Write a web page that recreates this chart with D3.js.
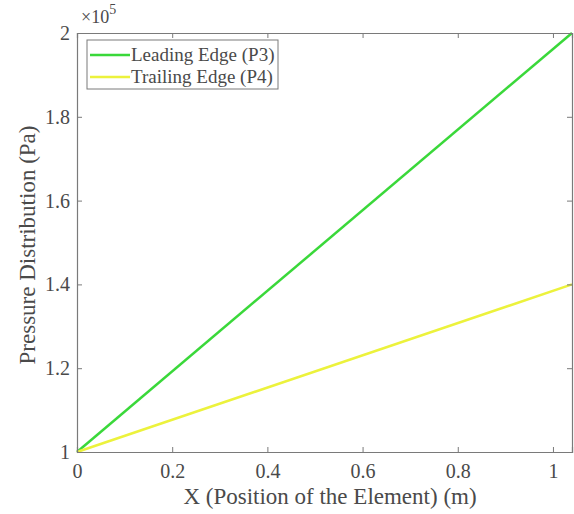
<!DOCTYPE html>
<html>
<head>
<meta charset="utf-8">
<script src="https://cdn.jsdelivr.net/npm/d3@7"></script>
<style>
  body { margin: 0; background: #fff; }
</style>
</head>
<body>
<div id="vis"></div>
<script>
const width = 574;
const height = 514;
const margin = { top: 33, right: 1, bottom: 62, left: 77 };
const font = '"Liberation Serif", "Times New Roman", serif';

// Data (pressure in Pa, position in m)
const xPos = [0, 1.04];
const leading = [1e5, 2e5];
const trailing = [1e5, 1.4e5];
const seriesNames = ["Leading Edge (P3)", "Trailing Edge (P4)"];
const seriesColors = ["#3ad83a", "#ecf23c"];
const xTicks = [0, 0.2, 0.4, 0.6, 0.8, 1];
const yTicks = [1, 1.2, 1.4, 1.6, 1.8, 2];

const series = [leading, trailing].map((vals, i) => ({
  name: seriesNames[i],
  color: seriesColors[i],
  points: vals.map((v, j) => ({ x: xPos[j], y: v / 1e5 }))
}));

const svg = d3.select("#vis").append("svg")
  .attr("width", width)
  .attr("height", height);

const xScale = d3.scaleLinear().domain([0, 1.04]).range([margin.left, width - margin.right - 1]);
const yScale = d3.scaleLinear().domain([1, 2]).range([height - margin.bottom, margin.top]);

const axisColor = "#7a7a7a";
const textColor = "#4a4a4a";
const x0 = xScale.range()[0], x1 = xScale.range()[1];
const y0 = yScale.range()[0], y1 = yScale.range()[1];

// Lines
const line = d3.line().x(d => xScale(d.x)).y(d => yScale(d.y));
svg.selectAll(".series")
  .data(series)
  .join("path")
  .attr("class", "series")
  .attr("d", d => line(d.points))
  .attr("fill", "none")
  .attr("stroke", d => d.color)
  .attr("stroke-width", 2.5);

// Axes box
const axBottom = svg.append("g")
  .attr("transform", `translate(0,${y0})`)
  .call(d3.axisBottom(xScale).tickValues(xTicks).tickSize(-5).tickPadding(12).tickFormat(d3.format("~g")));
const axTop = svg.append("g")
  .attr("transform", `translate(0,${y1})`)
  .call(d3.axisTop(xScale).tickValues(xTicks).tickSize(-5).tickFormat(""));
const axLeft = svg.append("g")
  .attr("transform", `translate(${x0},0)`)
  .call(d3.axisLeft(yScale).tickValues(yTicks).tickSize(-5).tickPadding(7).tickFormat(d3.format("~g")));
const axRight = svg.append("g")
  .attr("transform", `translate(${x1},0)`)
  .call(d3.axisRight(yScale).tickValues(yTicks).tickSize(-5).tickFormat(""));

[axBottom, axTop, axLeft, axRight].forEach(g => {
  g.attr("font-family", font);
  g.select(".domain").attr("stroke", axisColor).attr("stroke-width", 1.2);
  g.selectAll(".tick line").attr("stroke", axisColor);
  g.selectAll(".tick text")
    .style("font-family", font)
    .attr("font-size", 20)
    .attr("fill", textColor);
});

// Exponent label
const expo = svg.append("text")
  .attr("x", 81)
  .attr("y", 23)
  .style("font-family", font)
  .attr("font-size", 18)
  .attr("fill", textColor);
expo.append("tspan").text("\u00d710");
expo.append("tspan").attr("dy", -9).attr("font-size", 14).text("5");

// Axis labels
svg.append("text")
  .attr("x", 330)
  .attr("y", 504)
  .attr("text-anchor", "middle")
  .style("font-family", font)
  .attr("font-size", 23)
  .attr("fill", textColor)
  .text("X (Position of the Element) (m)");

svg.append("text")
  .attr("transform", `translate(35,245) rotate(-90)`)
  .attr("text-anchor", "middle")
  .style("font-family", font)
  .attr("font-size", 23)
  .attr("fill", textColor)
  .text("Pressure Distribution (Pa)");

// Legend
const legend = svg.append("g").attr("transform", "translate(87,40)");
legend.append("rect")
  .attr("width", 191)
  .attr("height", 49)
  .attr("fill", "#fff")
  .attr("stroke", axisColor)
  .attr("stroke-width", 1);
const items = legend.selectAll(".item")
  .data(series)
  .join("g")
  .attr("class", "item")
  .attr("transform", (d, i) => `translate(0,${15 + i * 22})`);
items.append("line")
  .attr("x1", 3).attr("x2", 43)
  .attr("stroke", d => d.color)
  .attr("stroke-width", 2.5);
items.append("text")
  .attr("x", 44)
  .attr("dy", "0.33em")
  .style("font-family", font)
  .attr("font-size", 19)
  .attr("fill", textColor)
  .text(d => d.name);
</script>
</body>
</html>
